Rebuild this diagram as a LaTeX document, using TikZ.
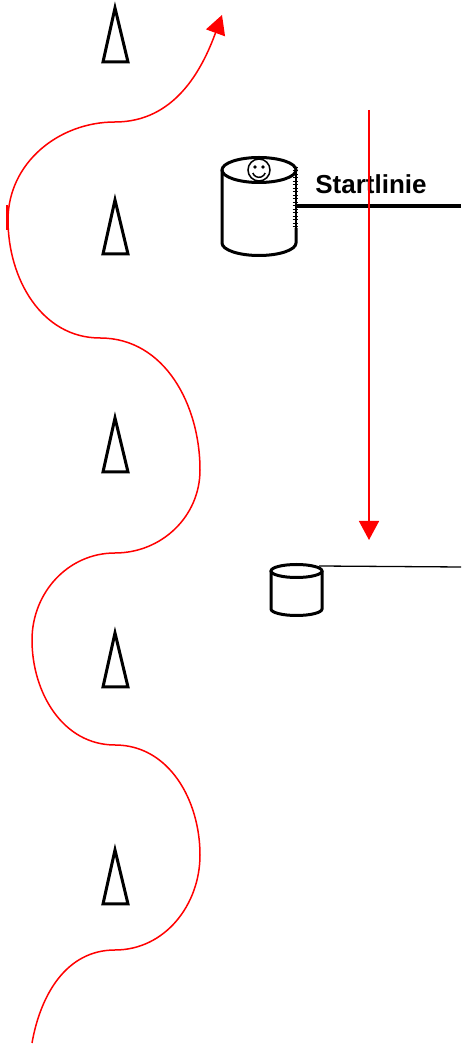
\documentclass[tikz,border=0pt]{standalone}
\usepackage{fontspec}
\setmainfont{Liberation Sans}
\usetikzlibrary{arrows.meta,positioning}

\begin{document}
\begin{tikzpicture}[x=1pt,y=1pt,>={Triangle[length=19pt,width=20pt]}]
				\tikzstyle{cone}=[line width=3pt,line join=miter]
				\tikzstyle{tonne}=[line width=3pt,fill=white]
				\tikzstyle{weg}=[red,line width=1.5pt]
				\tikzstyle{label}=[font=\bfseries\fontsize{26}{28}\selectfont,inner sep=0pt]
				\useasboundingbox (0,0) rectangle (461,1045);
				%Cones
				\foreach \t in {1037,845,627,412,195}
				\draw[cone] (115,\t) -- (103,\t-54) -- (128,\t-54) -- cycle;
				%Big barrel with the driver
				\coordinate (bt) at (259,875);
				\coordinate (bb) at (259,802);
				\draw[tonne] (222,875) -- (222,802) arc[start angle=180,end angle=360,x radius=37,y radius=12.5] -- (296,817);
				\draw[line width=1.3pt] (296,817) -- (296,875);
				\foreach \i in {0,...,17}
				\draw[line width=1pt] (292.5,818+3.5*\i) -- (297.5,818+3.5*\i);
				\draw[line width=3pt] (bt) ellipse[x radius=37,y radius=12.5];
				\draw[line width=1.5pt] (bt) circle[radius=11];
				\fill (255,878) circle[radius=1.9] (263,878) circle[radius=1.9];
				\draw[line width=1.5pt] (252.8,872) arc[start angle=200,end angle=340,radius=6.6];
				%Start line
				\coordinate (sl) at (296,839);
				\coordinate (sr) at (461,839);
				\draw[line width=4pt] (sl) -- (sr);
				\node[label](start) at (371,861){Startlinie};
				%Small barrel
				\coordinate (kt) at (296.5,474);
				\draw[tonne] (271,474) -- (271,436) arc[start angle=180,end angle=360,x radius=25.5,y radius=6.5] -- (322,474);
				\draw[line width=3pt] (kt) ellipse[x radius=25.5,y radius=6.5];
				\coordinate (kl) at (319,479);
				\coordinate (kr) at (461,478);
				\draw[line width=1.3pt] (kl) -- (kr);
				%Red arrows
				\coordinate (ao) at (369,935);
				\coordinate (au) at (369,505);
				\draw[weg,->] (ao) -- (au);
				\coordinate (w0) at (32,2);
				\coordinate (w9) at (222,1030);
				\draw[weg,->] (w0) to[out=80,in=180] (115,95) to[out=0,in=-90] (200,190)
					to[out=90,in=0] (115,300) to[out=180,in=-90] (32,405)
					to[out=90,in=180] (115,492) to[out=0,in=-90] (200,575)
					to[out=90,in=0] (100,707) to[out=180,in=-90] (8,825)
					to[out=90,in=180] (115,923) to[out=0,in=250] (w9);
				\draw[weg] (7,815) -- (7,840);
				\end{tikzpicture}
\end{document}
